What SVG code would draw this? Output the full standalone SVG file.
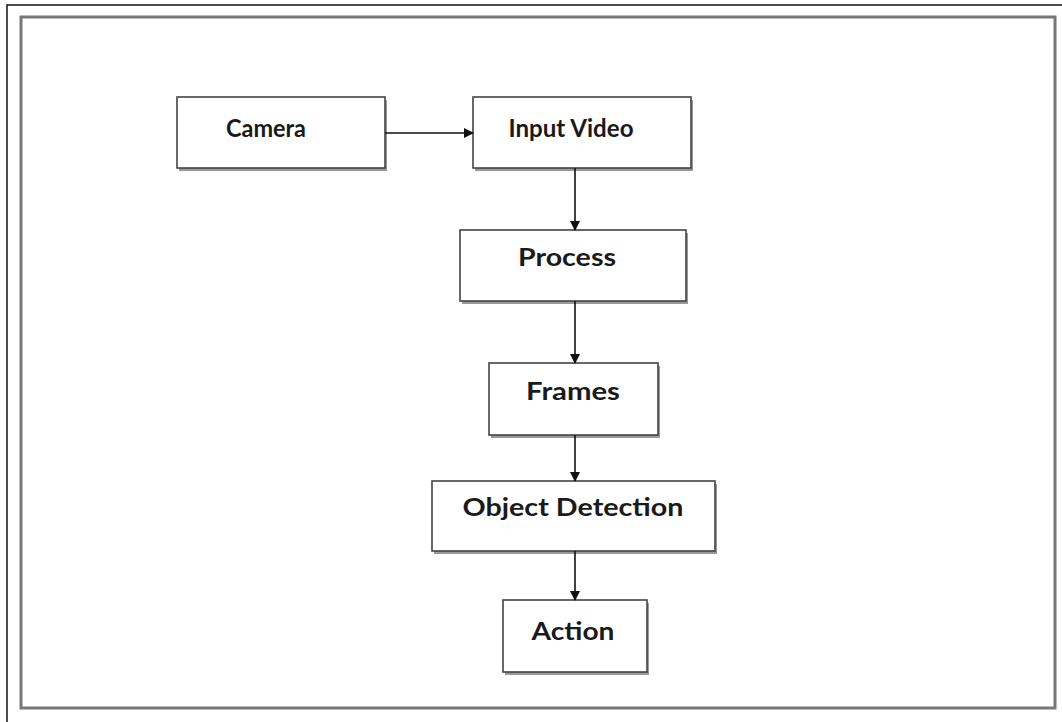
<svg xmlns="http://www.w3.org/2000/svg" width="1062" height="722" viewBox="0 0 1062 722">
<style>
.box{fill:#fff;stroke:#444;stroke-width:1.6}
.sh{fill:#999}
.lbl{font-family:Lato,"Open Sans",sans-serif;font-weight:bold;font-size:24px;fill:#1a1a1a;text-anchor:middle}
.conn{stroke:#111;stroke-width:1.6;fill:none}
</style>
<defs>
<marker id="ah" markerWidth="10" markerHeight="10" refX="9" refY="5" orient="auto" markerUnits="userSpaceOnUse">
<path d="M0,0 L10,5 L0,10 Z" fill="#111"/>
</marker>
</defs>
<rect width="1062" height="722" fill="#fff"/>
<path d="M7,722 V5 H1062" stroke="#111" stroke-width="1.5" fill="none"/>
<rect x="21" y="17" width="1034" height="691" fill="none" stroke="#777" stroke-width="3"/>
<g id="camera"><rect class="sh" x="179" y="100" width="208" height="71"/><rect class="box" x="177" y="97" width="208" height="71"/><text class="lbl" x="266" y="137" textLength="80" lengthAdjust="spacingAndGlyphs">Camera</text></g>
<g id="input-video"><rect class="sh" x="475" y="100" width="218" height="71"/><rect class="box" x="473" y="97" width="218" height="71"/><text class="lbl" x="571" y="137" textLength="125" lengthAdjust="spacingAndGlyphs">Input Video</text></g>
<g id="process"><rect class="sh" x="462" y="233" width="226" height="71"/><rect class="box" x="460" y="230" width="226" height="71"/><text class="lbl" x="567" y="266" textLength="98" lengthAdjust="spacingAndGlyphs">Process</text></g>
<g id="frames"><rect class="sh" x="491" y="366" width="169" height="72"/><rect class="box" x="489" y="363" width="169" height="72"/><text class="lbl" x="573" y="400" textLength="94" lengthAdjust="spacingAndGlyphs">Frames</text></g>
<g id="object-detection"><rect class="sh" x="434" y="484" width="283" height="70"/><rect class="box" x="432" y="481" width="283" height="70"/><text class="lbl" x="573" y="516" textLength="221" lengthAdjust="spacingAndGlyphs">Object Detection</text></g>
<g id="action"><rect class="sh" x="505" y="603" width="144" height="72"/><rect class="box" x="503" y="600" width="144" height="72"/><text class="lbl" x="573" y="640" textLength="83" lengthAdjust="spacingAndGlyphs">Action</text></g>
<g id="connectors">
<line class="conn" x1="385" y1="133" x2="473" y2="133" marker-end="url(#ah)"/>
<line class="conn" x1="575" y1="168" x2="575" y2="230" marker-end="url(#ah)"/>
<line class="conn" x1="575" y1="301" x2="575" y2="363" marker-end="url(#ah)"/>
<line class="conn" x1="575" y1="435" x2="575" y2="481" marker-end="url(#ah)"/>
<line class="conn" x1="575" y1="551" x2="575" y2="600" marker-end="url(#ah)"/>
</g>
</svg>
